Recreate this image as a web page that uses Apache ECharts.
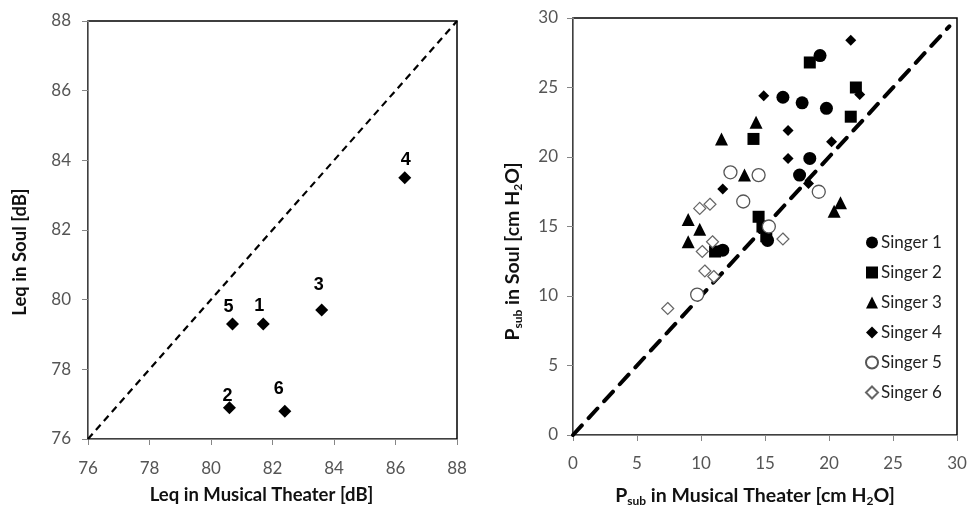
<!DOCTYPE html>
<html lang="en">
<head>
    <meta charset="UTF-8">
    <title>Leq and Psub: Musical Theater vs Soul</title>
    <style>
        html,body{
            margin: 0;
            padding: 0;
            background: #fff;
        }
        #chart{
            width: 967px;
            height: 506px;
        }
    </style>
    <script src="https://cdn.jsdelivr.net/npm/echarts@6/dist/echarts.min.js"></script>
</head>
<body>
<div id="chart"></div>
<script>
    // left panel: Leq per singer
    var leqNames = ['1', '2', '3', '4', '5', '6'];
    var leqMusical = [81.7, 80.6, 83.6, 86.3, 80.7, 82.4];
    var leqSoul = [79.3, 76.9, 79.7, 83.5, 79.3, 76.8];
    var leqTicks = [76, 78, 80, 82, 84, 86, 88];

    // right panel: Psub [musical theater, soul] per singer
    var singer1 = [[19.3, 27.3], [16.4, 24.3], [17.9, 23.9], [19.8, 23.5], [18.5, 19.9], [17.7, 18.7], [11.7, 13.3], [15.2, 14.0]];
    var singer2 = [[18.5, 26.8], [22.1, 25.0], [21.7, 22.9], [14.1, 21.3], [14.5, 15.7], [14.8, 15.0], [15.1, 14.3], [11.1, 13.2]];
    var singer3 = [[14.3, 22.5], [11.6, 21.3], [13.4, 18.7], [20.9, 16.7], [20.4, 16.1], [9.0, 15.5], [9.9, 14.8], [9.0, 13.9]];
    var singer4 = [[21.7, 28.4], [14.9, 24.4], [22.4, 24.5], [16.8, 21.9], [20.2, 21.1], [16.8, 19.9], [11.7, 17.7], [18.4, 18.1]];
    var singer5 = [[12.3, 18.9], [14.5, 18.7], [19.2, 17.5], [13.3, 16.8], [15.3, 15.0], [9.7, 10.1]];
    var singer6 = [[9.9, 16.3], [10.7, 16.6], [10.9, 13.9], [10.1, 13.2], [16.4, 14.1], [10.3, 11.8], [11.0, 11.4], [7.4, 9.1]];
    var psubTicks = [0, 5, 10, 15, 20, 25, 30];

    // identity reference lines
    var diagLeft = [[76, 76], [88, 88]];
    var diagRight = [[0, 0], [29.4, 29.4]];

    // label nudges for the singer numbers (style only)
    var labelNudge = [[-4, -3], [-2, 4], [-3, -10], [1, -2], [-4, -2], [-6, -7]];

    var tickFont = 'Lato';
    var axisGray = '#868686';

    function valueAxis(idx, ticks, name, gap, labelMargin, namePad, nameSize) {
        return {
            type: 'value',
            gridIndex: idx,
            min: ticks[0],
            max: ticks[ticks.length - 1],
            interval: ticks[1] - ticks[0],
            name: name,
            nameLocation: 'middle',
            nameGap: gap,
            nameTextStyle: {
                fontFamily: tickFont,
                fontWeight: 'bold',
                fontSize: nameSize,
                color: '#111',
                padding: namePad
            },
            axisLine: {show: true, lineStyle: {color: axisGray, width: 1}},
            axisTick: {show: true, inside: false, length: 6, lineStyle: {color: axisGray}},
            axisLabel: {fontFamily: tickFont, fontSize: 17, color: '#555', margin: labelMargin},
            splitLine: {show: false}
        };
    }

    var subRich = {
        a: {fontFamily: tickFont, fontWeight: 'bold', fontSize: 19.5, color: '#111', lineHeight: 23},
        s: {fontFamily: tickFont, fontWeight: 'bold', fontSize: 12, color: '#111', verticalAlign: 'bottom', lineHeight: 23}
    };

    var chart = echarts.init(document.getElementById('chart'));

    var leqData = leqMusical.map(function (x, i) {
        return {
            value: [x, leqSoul[i]],
            name: leqNames[i],
            label: {offset: labelNudge[i]}
        };
    });

    function singerSeries(name, data, symbol, size, style) {
        return {
            name: name,
            type: 'scatter',
            xAxisIndex: 1,
            yAxisIndex: 1,
            symbol: symbol,
            symbolSize: size,
            itemStyle: style,
            data: data,
            z: 3
        };
    }

    var filled = {color: '#000', opacity: 1};
    var hollow = {color: '#fff', borderColor: '#555', borderWidth: 1.3, opacity: 1};

    var xAx0 = valueAxis(0, leqTicks, 'Leq in Musical Theater [dB]', 47, 21, [0, 22, 0, 0], 18.5);
    var yAx0 = valueAxis(0, leqTicks, 'Leq in Soul [dB]', 58, 17, [0, 44, 0, 0], 18.5);
    var xAx1 = valueAxis(1, psubTicks, '{a|P}{s|sub}{a| in Musical Theater [cm H}{s|2}{a|O]}', 49, 20, [0, 20, 0, 0], 19.5);
    xAx1.nameTextStyle.rich = subRich;
    var yAx1 = valueAxis(1, psubTicks, '{a|P}{s|sub}{a| in Soul [cm H}{s|2}{a|O]}', 49, 15, [0, 50, 0, 0], 19.5);
    yAx1.nameTextStyle.rich = subRich;

    var option = {
        animation: false,
        backgroundColor: '#fff',
        grid: [
            {left: 88, top: 21, width: 369, height: 418, outerBoundsMode: 'none', containLabel: false, show: true, borderColor: '#000', borderWidth: 1.5, backgroundColor: 'transparent'},
            {left: 573, top: 18, width: 384, height: 417, outerBoundsMode: 'none', containLabel: false, show: true, borderColor: '#000', borderWidth: 1.5, backgroundColor: 'transparent'}
        ],
        xAxis: [xAx0, xAx1],
        yAxis: [yAx0, yAx1],
        legend: {
            orient: 'vertical',
            left: 860,
            top: 229,
            itemWidth: 12,
            itemHeight: 12,
            itemGap: 13,
            data: ['Singer 1', 'Singer 2', 'Singer 3', 'Singer 4', 'Singer 5', 'Singer 6'],
            textStyle: {fontFamily: tickFont, fontSize: 17, color: '#222', padding: [0, 0, 0, -2]}
        },
        series: [
            {
                type: 'line',
                xAxisIndex: 0,
                yAxisIndex: 0,
                data: diagLeft,
                symbol: 'none',
                silent: true,
                lineStyle: {color: '#000', width: 2.2, type: [7, 5]},
                z: 1
            },
            {
                type: 'scatter',
                xAxisIndex: 0,
                yAxisIndex: 0,
                symbol: 'diamond',
                symbolSize: 13,
                itemStyle: {color: '#000', opacity: 1},
                label: {
                    show: true,
                    position: 'top',
                    distance: 0,
                    formatter: '{b}',
                    fontFamily: 'Liberation Sans',
                    fontWeight: 'bold',
                    fontSize: 18,
                    color: '#000'
                },
                data: leqData
            },
            {
                type: 'line',
                xAxisIndex: 1,
                yAxisIndex: 1,
                data: diagRight,
                symbol: 'none',
                silent: true,
                lineStyle: {color: '#000', width: 4, type: [13, 10], cap: 'round'},
                z: 1
            },
            singerSeries('Singer 1', singer1, 'circle', 13, filled),
            singerSeries('Singer 2', singer2, 'rect', 12, filled),
            singerSeries('Singer 3', singer3, 'triangle', 13, filled),
            singerSeries('Singer 4', singer4, 'diamond', 11, filled),
            singerSeries('Singer 5', singer5, 'circle', 13, hollow),
            singerSeries('Singer 6', singer6, 'diamond', 12, {color: '#fff', borderColor: '#666', borderWidth: 1.2, opacity: 1})
        ]
    };

    chart.setOption(option);
</script>
</body>
</html>
